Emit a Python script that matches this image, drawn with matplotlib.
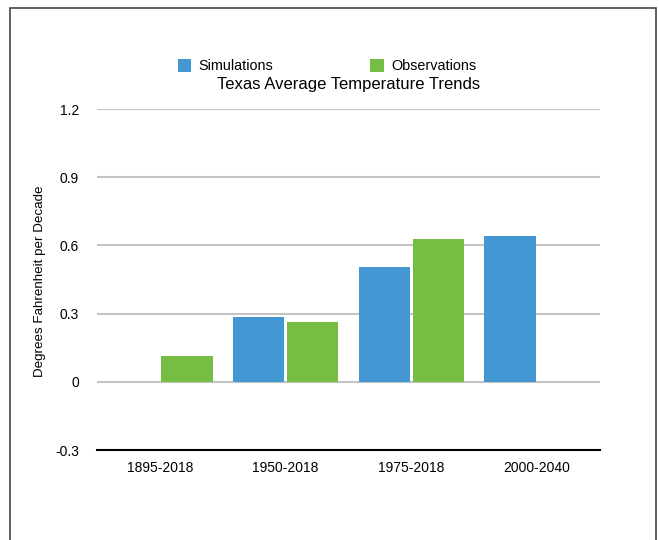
import matplotlib.pyplot as plt
import numpy as np
from matplotlib.patches import Rectangle

plt.rcParams["font.family"] = ["Liberation Sans", "DejaVu Sans"]

periods = ["1895-2018", "1950-2018", "1975-2018", "2000-2040"]
simulations = [np.nan, 0.287, 0.505, 0.641]
observations = [0.112, 0.261, 0.627, np.nan]
y_ticks = [-0.3, 0, 0.3, 0.6, 0.9, 1.2]
y_tick_labels = ["-0.3", "0", "0.3", "0.6", "0.9", "1.2"]

blue = "#4398d4"
green = "#75be43"

fig = plt.figure(figsize=(6.59, 5.4), dpi=100)
ax = fig.add_axes([97 / 659, 1 - 450 / 540, 503 / 659, 341 / 540])

x = np.arange(len(periods))
w = 0.41
ax.bar(x - 0.215, simulations, w, color=blue, label="Simulations", zorder=3)
ax.bar(x + 0.215, observations, w, color=green, label="Observations", zorder=3)

ax.set_xlim(-0.5, 3.5)
ax.set_ylim(-0.3, 1.2)
ax.set_yticks(y_ticks)
ax.set_yticklabels(y_tick_labels)
ax.set_xticks(x)
ax.set_xticklabels(periods)
ax.tick_params(axis="both", length=0, labelsize=10)
ax.tick_params(axis="y", pad=13)
ax.tick_params(axis="x", pad=8)

ax.yaxis.grid(True, color="#c4c4c4", linewidth=1.5, zorder=0)
for s in ["top", "right", "left"]:
    ax.spines[s].set_visible(False)
ax.spines["bottom"].set_color("black")
ax.spines["bottom"].set_linewidth(1.5)
ax.spines["bottom"].set_zorder(4)

fig.text(40 / 659, 1 - 281 / 540, "Degrees Fahrenheit per Decade", rotation=90,
         ha="center", va="center", fontsize=9.6)
fig.text(349 / 659, 1 - 84 / 540, "Texas Average Temperature Trends",
         ha="center", va="center", fontsize=12)

fig.legend(loc="center", bbox_to_anchor=(327 / 659, 1 - 66 / 540), ncol=2,
           frameon=False, fontsize=10.4, handlelength=0.95, handleheight=1.0,
           handletextpad=0.5, columnspacing=6.7)

# frame around the chart
fig.patches.append(Rectangle((10 / 659, -0.1), 646 / 659, 1.1 - 8 / 540,
                             transform=fig.transFigure, fill=False,
                             edgecolor="#444444", linewidth=1.2))

fig.savefig("out.png", dpi=100)
